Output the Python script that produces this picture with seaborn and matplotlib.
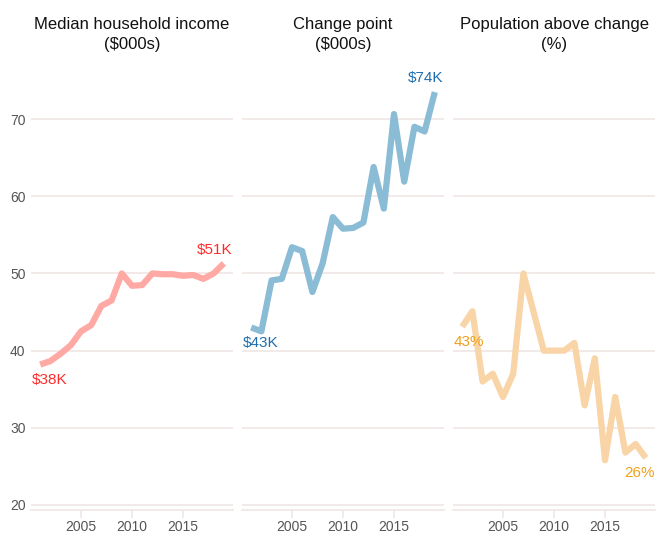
import numpy as np
import pandas as pd
import matplotlib
matplotlib.use("Agg")
import matplotlib.pyplot as plt
import seaborn as sns

# datos
years = list(range(2001, 2020))
income = [38.2, 38.65, 39.6, 40.7, 42.5, 43.3, 45.8, 46.5, 50.0, 48.4,
          48.5, 50.0, 49.9, 49.9, 49.7, 49.8, 49.3, 50.0, 51.3]
change_point = [43.0, 42.5, 49.1, 49.3, 53.4, 52.9, 47.6, 51.3, 57.3, 55.8,
                55.9, 56.6, 63.8, 58.4, 70.65, 61.9, 69.0, 68.4, 73.5]
pop_above = [43.1, 45.1, 36.0, 37.0, 34.0, 37.0, 50.0, 45.0, 40.0, 40.0,
             40.0, 41.0, 32.9, 39.0, 25.8, 34.0, 26.8, 27.9, 26.1]

titles = ["Median household income\n($000s)", "Change point\n($000s)",
          "Population above change\n(%)"]
start_labels = ["$38K", "$43K", "43%"]
end_labels = ["$51K", "$74K", "26%"]
line_colors = ["#FFA9A5", "#8ABCD6", "#F8D4A6"]
text_colors = ["#FF2B2B", "#1F6DAD", "#F0A01C"]
end_below = [False, False, True]
x_ticks = [2005, 2010, 2015]
y_ticks = [20, 30, 40, 50, 60, 70]

df = pd.DataFrame({
    "year": years * 3,
    "value": income + change_point + pop_above,
    "panel": [0] * 19 + [1] * 19 + [2] * 19,
})

sns.set_theme(style="white")
plt.rcParams["font.family"] = ["Liberation Sans", "DejaVu Sans"]

grid_col = "#F0E8E6"
W, H = 656, 533
fig = plt.figure(figsize=(W / 100, H / 100), dpi=100)

lefts = [31, 242, 453]
width = 202
top_px, bot_px = 62, 510

for i in range(3):
    ax = fig.add_axes([lefts[i] / W, (H - bot_px) / H, width / W, (bot_px - top_px) / H])
    sub = df[df["panel"] == i]
    sns.lineplot(data=sub, x="year", y="value", ax=ax, color=line_colors[i],
                 linewidth=4.5, solid_capstyle="butt", solid_joinstyle="round")
    ax.set_xlim(2000.1, 2019.9)
    ax.set_ylim(19.35, 77.4)
    ax.set_xticks(x_ticks)
    ax.set_yticks(y_ticks)
    ax.set_xlabel("")
    ax.set_ylabel("")
    ax.grid(axis="y", color=grid_col, linewidth=1.3)
    ax.grid(axis="x", visible=False)
    for s in ["top", "right", "left"]:
        ax.spines[s].set_visible(False)
    ax.spines["bottom"].set_color(grid_col)
    ax.spines["bottom"].set_linewidth(1.3)
    ax.tick_params(axis="x", length=6, width=1.3, color=grid_col, pad=1,
                   labelsize=10, labelcolor="#555555", bottom=True)
    ax.tick_params(axis="y", length=0, pad=4, labelsize=10, labelcolor="#555555")
    if i > 0:
        ax.set_yticklabels([])
    ax.set_title(titles[i], fontsize=12, color="#111111", pad=9, linespacing=1.45)

    vals = sub["value"].tolist()
    ax.text(2000.15, vals[0] - 2.0, start_labels[i], color=text_colors[i],
            fontsize=11, ha="left", va="center")
    y_end = vals[-1] - 2.0 if end_below[i] else vals[-1] + 1.8
    ax.text(2019.85, y_end, end_labels[i], color=text_colors[i],
            fontsize=11, ha="right", va="center")

fig.savefig("out.png", dpi=100)
